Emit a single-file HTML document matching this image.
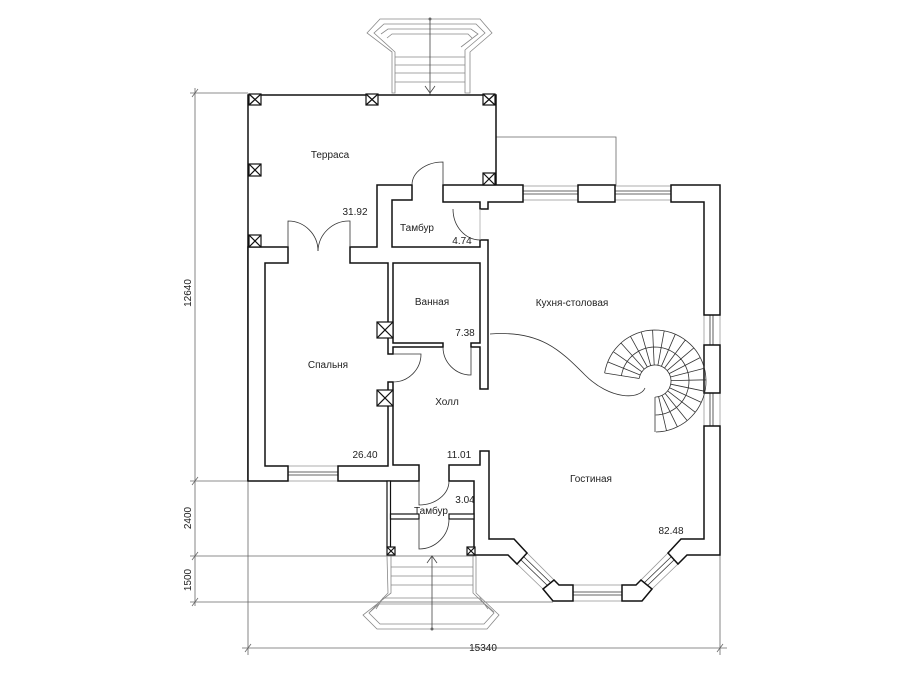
<!DOCTYPE html>
<html><head><meta charset="utf-8"><style>
html,body{margin:0;padding:0;background:#fff}
svg{display:block}
text{font-family:"Liberation Sans","DejaVu Sans",sans-serif;font-size:10px;fill:#222}
.w{fill:#fff;stroke:#111;stroke-width:1.5;stroke-linejoin:miter}
.t{fill:none;stroke:#333;stroke-width:0.8}
.g{fill:none;stroke:#888;stroke-width:0.8}
.d{fill:none;stroke:#666;stroke-width:0.8}
.x{fill:#fff;stroke:#111;stroke-width:1.2}
</style></head><body>
<svg id="s" width="899" height="675" viewBox="0 0 899 675" xmlns="http://www.w3.org/2000/svg">
<g class="d">
<line x1="195" y1="88" x2="195" y2="606"/>
<line x1="190" y1="93" x2="248" y2="93"/>
<line x1="190" y1="481" x2="248" y2="481"/>
<line x1="190" y1="556" x2="474" y2="556"/>
<line x1="190" y1="602" x2="553" y2="602"/>
<line x1="248" y1="481" x2="248" y2="655"/>
<line x1="720" y1="555" x2="720" y2="655"/>
<line x1="242" y1="648" x2="727" y2="648"/>
<line x1="192" y1="97" x2="198" y2="89"/>
<line x1="192" y1="485" x2="198" y2="477"/>
<line x1="192" y1="560" x2="198" y2="552"/>
<line x1="192" y1="606" x2="198" y2="598"/>
<line x1="245" y1="652" x2="251" y2="644"/>
<line x1="717" y1="652" x2="723" y2="644"/>
<polyline points="496,137 616,137 616,190"/>
</g>
<text transform="translate(191,293) rotate(-90)" text-anchor="middle">12640</text>
<text transform="translate(191,518) rotate(-90)" text-anchor="middle">2400</text>
<text transform="translate(191,580) rotate(-90)" text-anchor="middle">1500</text>
<text x="483" y="651" text-anchor="middle">15340</text>

<g class="g">
<polygon points="367,33 380,19 480,19 492,33 470,52 470,93 465,93 465,50 485,33 476,24 384,24 374,33 395,52 395,93 392,93 392,52"/>
<polyline points="381,34 388,29 471,29 478,34 461,47"/>
<polyline points="387,38 392,34 468,34 472,38"/>
<line x1="395" y1="57" x2="465" y2="57"/><line x1="395" y1="65" x2="465" y2="65"/>
<line x1="395" y1="73" x2="465" y2="73"/><line x1="395" y1="82" x2="465" y2="82"/>
<line x1="430" y1="19" x2="430" y2="95" stroke="#444"/>
<polyline points="425,86 430,93 435,86" stroke="#444"/>
</g>
<circle cx="430" cy="19" r="1.5" fill="#666"/>

<g class="g">
<polygon points="387,556 391,556 391,593 363,615 377,629 487,629 499,615 476,593 476,556 473,556 473,593 494,613 484,624 380,624 369,613 388,593"/>
<polyline points="370,612 379,604 485,604 494,612"/>
<polyline points="376,609 383,598 480,598 488,609"/>
<line x1="391" y1="567" x2="473" y2="567"/><line x1="391" y1="576" x2="473" y2="576"/>
<line x1="391" y1="585" x2="473" y2="585"/>
<line x1="432" y1="556" x2="432" y2="629" stroke="#444"/>
<polyline points="427,563 432,556 437,563" stroke="#444"/>
</g>
<circle cx="432" cy="629" r="1.5" fill="#666"/>

<polyline class="w" points="248,481 248,95 496,95 496,186" style="fill:none"/>

<g class="t">
<rect x="523" y="186" width="55" height="14" fill="#fff" stroke="#999"/>
<line x1="523" y1="191" x2="578" y2="191"/><line x1="523" y1="194" x2="578" y2="194"/>
<rect x="615" y="186" width="56" height="14" fill="#fff" stroke="#999"/>
<line x1="615" y1="191" x2="671" y2="191"/><line x1="615" y1="194" x2="671" y2="194"/>
<rect x="704" y="315" width="16" height="30" fill="#fff" stroke="#999"/>
<line x1="710" y1="315" x2="710" y2="345"/><line x1="713" y1="315" x2="713" y2="345"/>
<rect x="704" y="393" width="16" height="33" fill="#fff" stroke="#999"/>
<line x1="710" y1="393" x2="710" y2="426"/><line x1="713" y1="393" x2="713" y2="426"/>
<rect x="288" y="466" width="50" height="15" fill="#fff" stroke="#999"/>
<line x1="288" y1="472" x2="338" y2="472"/><line x1="288" y1="475" x2="338" y2="475"/>
<rect x="573" y="585" width="49" height="16" fill="#fff" stroke="#999"/>
<line x1="573" y1="592" x2="622" y2="592"/><line x1="573" y1="595" x2="622" y2="595"/>
<polygon points="517,564 527,553 554,580 543,589" fill="#fff" stroke="#999"/>
<line x1="521" y1="560" x2="548" y2="586"/><line x1="524" y1="557" x2="551" y2="583"/>
<polygon points="678,564 668,553 641,580 652,589" fill="#fff" stroke="#999"/>
<line x1="674" y1="560" x2="647" y2="586"/><line x1="671" y1="557" x2="644" y2="583"/>
</g>

<polygon class="w" points="248,247 288,247 288,263 265,263 265,466 288,466 288,481 248,481"/>
<polygon class="w" points="350,247 377,247 377,185 412,185 412,200 392,200 392,247 480,247 480,240 488,240 488,389 480,389 480,347 471,347 471,343 480,343 480,263 393,263 393,343 443,343 443,347 393,347 393,354 388,354 388,263 350,263"/>
<polygon class="w" points="388,382 393,382 393,465 419,465 419,481 338,481 338,466 388,466"/>
<polygon class="w" points="449,465 480,465 480,451 489,451 489,539 514,539 527,553 517,564 508,555 474,555 474,481 449,481"/>
<polygon class="w" points="543,589 553,601 573,601 573,585 559,585 554,580"/>
<polygon class="w" points="652,589 642,601 622,601 622,585 636,585 641,580"/>
<polygon class="w" points="704,426 720,426 720,555 687,555 678,564 668,553 681,539 704,539"/>
<polygon class="w" points="704,345 720,345 720,393 704,393"/>
<polygon class="w" points="671,185 720,185 720,315 704,315 704,202 671,202"/>
<polygon class="w" points="578,185 615,185 615,202 578,202"/>
<polygon class="w" points="443,185 523,185 523,202 488,202 488,209 480,209 480,202 443,202"/>
<rect class="w" x="387" y="481" width="3.5" height="66" style="stroke-width:1.2"/>
<rect class="w" x="390.5" y="514" width="28.5" height="5" style="stroke-width:1.2"/>
<rect class="w" x="449" y="514" width="25" height="5" style="stroke-width:1.2"/>

<g class="x">
<rect x="249" y="94" width="12" height="11"/><path d="M249,94 L261,105 M261,94 L249,105"/>
<rect x="366" y="94" width="12" height="11"/><path d="M366,94 L378,105 M378,94 L366,105"/>
<rect x="483" y="94" width="12" height="11"/><path d="M483,94 L495,105 M495,94 L483,105"/>
<rect x="249" y="164" width="12" height="12"/><path d="M249,164 L261,176 M261,164 L249,176"/>
<rect x="249" y="235" width="12" height="12"/><path d="M249,235 L261,247 M261,235 L249,247"/>
<rect x="483" y="173" width="12" height="12"/><path d="M483,173 L495,185 M495,173 L483,185"/>
<rect x="377" y="322" width="16" height="16"/><path d="M377,322 L393,338 M393,322 L377,338"/>
<rect x="377" y="390" width="16" height="16"/><path d="M377,390 L393,406 M393,390 L377,406"/>
<rect x="387" y="547" width="8" height="8"/><path d="M387,547 L395,555 M395,547 L387,555"/>
<rect x="467" y="547" width="8" height="8"/><path d="M467,547 L475,555 M475,547 L467,555"/>
</g>

<g class="t">
<path d="M288,247 L288,221 A30 30 0 0 1 318,251"/>
<path d="M350,247 L350,221 A31 31 0 0 0 318,251"/>
<path d="M443,185 L443,162 A31 23 0 0 0 412,185"/>
<path d="M453,209 A27 31 0 0 0 480,240" /><line x1="480" y1="209" x2="480" y2="240" stroke="#aaa"/>
<path d="M443,347 A28 28 0 0 0 471,375 L471,347"/>
<path d="M393,382 A28 28 0 0 0 421,354 L393,354"/>
<path d="M419,481 L419,505 A30 24 0 0 0 449,481"/>
<path d="M419,519 L419,549 A30 30 0 0 0 449,519"/>
<path d="M490,334 C540,330 560,350 585,375 C610,400 640,400 645,388"/>
</g>
<g id="stair" class="t"></g>

<text x="330" y="158" text-anchor="middle">Терраса</text>
<text x="355" y="215" text-anchor="middle">31.92</text>
<text x="417" y="231" text-anchor="middle">Тамбур</text>
<text x="462" y="244" text-anchor="middle">4.74</text>
<text x="432" y="305" text-anchor="middle">Ванная</text>
<text x="465" y="336" text-anchor="middle">7.38</text>
<text x="572" y="306" text-anchor="middle">Кухня-столовая</text>
<text x="328" y="368" text-anchor="middle">Спальня</text>
<text x="447" y="405" text-anchor="middle">Холл</text>
<text x="365" y="458" text-anchor="middle">26.40</text>
<text x="459" y="458" text-anchor="middle">11.01</text>
<text x="591" y="482" text-anchor="middle">Гостиная</text>
<text x="465" y="503" text-anchor="middle">3.04</text>
<text x="431" y="514" text-anchor="middle">Тамбур</text>
<text x="671" y="534" text-anchor="middle">82.48</text>
</svg>
<script>
(function(){
var g=document.getElementById('stair'),cx=655,cy=381,ri=16,rm=34,ro=51;
var a0=189,a1=450,n=20,d='';
function p(r,a){var t=a*Math.PI/180;return (cx+r*Math.cos(t)).toFixed(1)+','+(cy+r*Math.sin(t)).toFixed(1);}
for(var i=0;i<=n;i++){var a=a0+(a1-a0)*i/n;d+='M'+p(ri,a)+' L'+p(ro,a)+' ';}
function arc(r){var s='M'+p(r,a0);for(var a=a0+5;a<=a1;a+=5)s+=' L'+p(r,a);return s+' ';}
d+=arc(ro)+arc(rm)+arc(ri);
var e=document.createElementNS('http://www.w3.org/2000/svg','path');e.setAttribute('d',d);g.appendChild(e);
})();
</script>
</body></html>
